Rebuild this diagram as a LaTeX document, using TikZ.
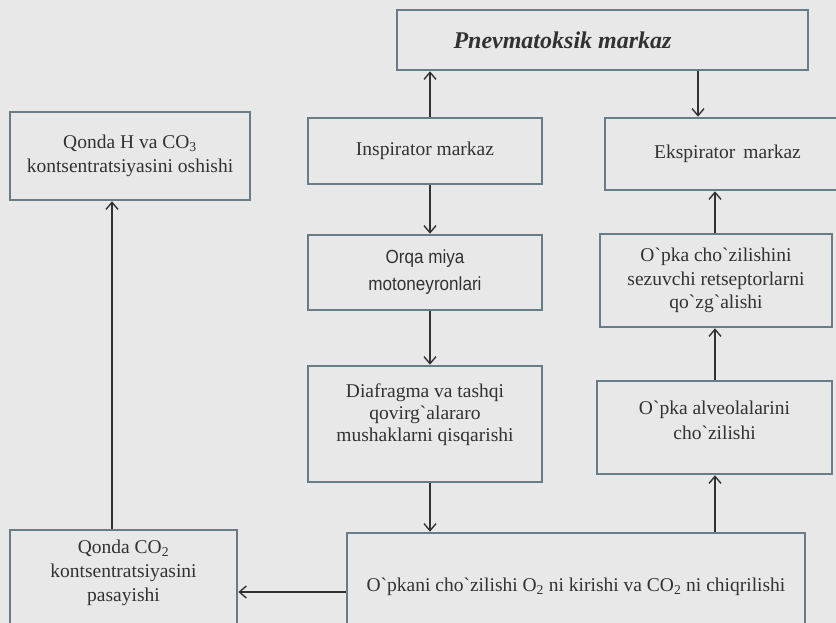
\documentclass[tikz,border=0pt]{standalone}
\usepackage{fontspec}
\setmainfont{Liberation Serif}[Ligatures=TeXOff]
\newfontfamily\narrowsans[FakeStretch=0.9]{Liberation Sans}
\usetikzlibrary{positioning,arrows.meta}
\definecolor{pagegray}{RGB}{232,232,232}
\definecolor{boxline}{RGB}{104,124,136}
\definecolor{inkgray}{RGB}{50,50,50}
\tikzset{
  schema/.style={draw=boxline, line width=2.6pt, fill=pagegray, align=center, text=inkgray, inner sep=3pt, font=\fontsize{19.5}{22}\selectfont},
  link/.style={draw=inkgray, line width=1.6pt, -{Straight Barb[length=7pt,width=12pt,line width=1.4pt]}}
}

\begin{document}
\begin{tikzpicture}[x=1pt,y=-1pt]
\useasboundingbox (0,0) rectangle (836,623);
\clip (0,0) rectangle (836,623);
\fill[pagegray] (0,0) rectangle (836,623);

\node[schema, minimum width=411pt, minimum height=60pt, font=\fontsize{24}{26}\selectfont\bfseries\itshape] at (602.5,40)(pnev){Pnevmatoksik markaz\hspace*{80pt}};
\node[schema, minimum width=240pt, minimum height=88pt, font=\fontsize{19.5}{24}\selectfont] at (130,156)(qondaH){Qonda H va CO\textsubscript{3}\\kontsentratsiyasini oshishi};
\node[schema, minimum width=234pt, minimum height=66pt] at (425,151)(insp){Inspirator markaz};
\node[schema, minimum width=245pt, minimum height=72pt] at (727.5,154)(eksp){Ekspirator\, markaz};
\node[schema, minimum width=234pt, minimum height=75pt, font=\fontsize{19}{27}\selectfont\narrowsans] at (425,272.5)(orqa){Orqa miya\\motoneyronlari};
\node[schema, minimum width=232pt, minimum height=93pt, font=\fontsize{19.5}{23.5}\selectfont] at (716,280.5)(retsep){O`pka cho`zilishini\\sezuvchi retseptorlarni\\qo`zg`alishi};
\node[schema, minimum width=234pt, minimum height=116pt, text depth=22pt] at (425,424)(diaf){Diafragma va tashqi\\qovirg`alararo\\mushaklarni qisqarishi};
\node[schema, minimum width=235pt, minimum height=93pt, font=\fontsize{19.5}{25}\selectfont, text depth=14pt] at (714.5,427.5)(alveol){O`pka alveolalarini\\cho`zilishi};
\node[schema, minimum width=227pt, minimum height=105pt, font=\fontsize{19.5}{24}\selectfont, text depth=24pt] at (123.5,582.5)(qondaCO){Qonda CO\textsubscript{2}\\kontsentratsiyasini\\pasayishi};
\node[schema, minimum width=458pt, minimum height=107pt] at (576,586.5)(opkani){O`pkani cho`zilishi O\textsubscript{2} ni kirishi va CO\textsubscript{2} ni chiqrilishi};

\draw[link] ([xshift=5pt]insp.north) -- ([xshift=5pt]insp.north |- pnev.south);
\draw[link] ([xshift=95.5pt]pnev.south) -- ([xshift=95.5pt]pnev.south |- eksp.north);
\draw[link] ([xshift=5pt]insp.south) -- ([xshift=5pt]insp.south |- orqa.north);
\draw[link] ([xshift=5pt]orqa.south) -- ([xshift=5pt]orqa.south |- diaf.north);
\draw[link] ([xshift=5pt]diaf.south) -- ([xshift=5pt]diaf.south |- opkani.north);
\draw[link] ([xshift=0.5pt]alveol.south |- opkani.north) -- ([xshift=0.5pt]alveol.south);
\draw[link] ([xshift=0.5pt]alveol.north) -- ([xshift=0.5pt]alveol.north |- retsep.south);
\draw[link] ([xshift=-1pt]retsep.north) -- ([xshift=-1pt]retsep.north |- eksp.south);
\draw[link] ([yshift=-5.5pt]opkani.west) -- ([yshift=-5.5pt]opkani.west -| qondaCO.east);
\draw[link] ([xshift=-11.5pt]qondaCO.north) -- ([xshift=-11.5pt]qondaCO.north |- qondaH.south);
\end{tikzpicture}
\end{document}
